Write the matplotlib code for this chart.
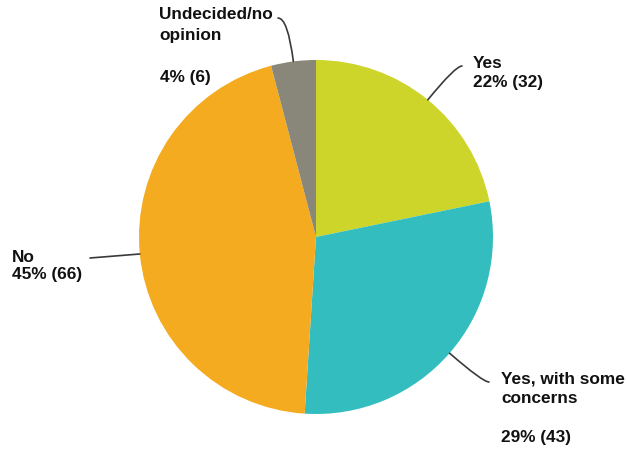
import numpy as np
import matplotlib.pyplot as plt

labels = ["Yes", "Yes, with some\nconcerns\n", "No", "Undecided/no\nopinion\n"]
counts = [32, 43, 66, 6]
colors = ["#CDD42A", "#33BDBE", "#F5AB1F", "#888779"]

# label anchor (left, top) and leader end, in figure pixels
text_pos = [(473, 55.5), (501, 372), (12, 249.5), (159.5, 7)]
spacing = [1.4, 1.37, 1.22, 1.5]
line_end = [(462, 66), (489, 382), (90, 258), (278, 18)]

W, H = 627, 455
CX, CY, R = 316, 237, 177


def px(x, y):
    return x - CX, CY - y


fig = plt.figure(figsize=(W / 100, H / 100), dpi=100)
ax = fig.add_axes([0, 0, 1, 1])

wedges, _ = ax.pie(counts, colors=colors, startangle=90, counterclock=False,
                   radius=R, wedgeprops=dict(linewidth=0))

# pie() sets its own limits, so fix the view afterwards
ax.set_xlim(-CX, W - CX)
ax.set_ylim(CY - H, CY)
ax.set_aspect("equal")
ax.axis("off")

total = sum(counts)
for w, lab, n, tp, ls, le in zip(wedges, labels, counts, text_pos, spacing, line_end):
    mid = np.deg2rad((w.theta1 + w.theta2) / 2)
    edge = (R * np.cos(mid), R * np.sin(mid))
    pct = round(100 * n / total)
    ang = np.rad2deg(mid) % 360
    if abs(np.sin(mid)) < 0.2:
        cs = "arc3,rad=0"
    else:
        cs = "angle3,angleA=0,angleB=%.1f" % ang
    ax.annotate("", xy=edge, xytext=px(*le),
                arrowprops=dict(arrowstyle="-", color="#3a3a3a", lw=1.2,
                                shrinkA=0, shrinkB=0, connectionstyle=cs))
    ax.text(*px(*tp), "%s\n%d%% (%d)" % (lab, pct, n), ha="left", va="top",
            fontsize=12.4, fontweight="bold", family="Liberation Sans",
            color="#111111", linespacing=ls)

fig.savefig("out.png", dpi=100, facecolor="white")
